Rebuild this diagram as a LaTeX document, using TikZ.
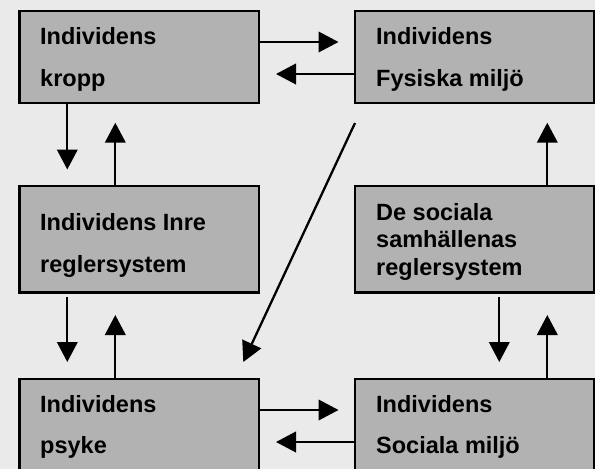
\documentclass[tikz,border=0pt]{standalone}
\usepackage{fontspec}
\setmainfont{Liberation Sans}
\usetikzlibrary{arrows.meta}
\definecolor{bg}{HTML}{EAEAEA}
\definecolor{boxgray}{HTML}{B2B2B2}
\begin{document}
\begin{tikzpicture}[x=1pt,y=-1pt,
  box/.style={draw=black,line width=2.6pt,fill=boxgray,inner sep=0pt,outer sep=0pt,anchor=north west,minimum width=239.5pt},
  lbl/.style={anchor=base west,inner sep=0pt,font=\fontsize{23.5}{28}\selectfont\bfseries},
  arr/.style={line width=2.3pt,-{Triangle[width=20.5pt,length=20pt]}}]
\useasboundingbox (0,0) rectangle (595,469);
\fill[bg] (0,0) rectangle (595,469);
\clip (0,0) rectangle (595,469);
% boxes
\node[box,minimum height=92pt] (b1) at (19.5,11) {};
\node[box,minimum height=92pt] (b2) at (355,11) {};
\node[box,minimum height=106.5pt] (b3) at (19.5,186) {};
\node[box,minimum height=106.5pt] (b4) at (355,186) {};
\node[box,minimum height=110pt] (b5) at (19.5,379) {};
\node[box,minimum height=110pt] (b6) at (355,379) {};
% labels
\node[lbl] (t1a) at (40,44) {Individens};
\node[lbl] (t1b) at (40,86) {kropp};
\node[lbl] (t2a) at (376,44) {Individens};
\node[lbl] (t2b) at (376,86) {Fysiska miljö};
\node[lbl] (t3a) at (40,230) {Individens Inre};
\node[lbl] (t3b) at (40,272.5) {reglersystem};
\node[lbl] (t4a) at (376,220) {De sociala};
\node[lbl] (t4b) at (376,247.5) {samhällenas};
\node[lbl] (t4c) at (376,275) {reglersystem};
\node[lbl] (t5a) at (40,412) {Individens};
\node[lbl] (t5b) at (40,453) {psyke};
\node[lbl] (t6a) at (376,412) {Individens};
\node[lbl] (t6b) at (376,453) {Sociala miljö};
% free ends
\coordinate (h1) at (338.5,42);
\coordinate (h2) at (276,74);
\coordinate (h3) at (338.5,410);
\coordinate (h4) at (276,442);
\coordinate (v1) at (67.3,169.5);
\coordinate (v2) at (115.3,122.7);
\coordinate (v3s) at (67.3,297);
\coordinate (v3) at (67.3,362);
\coordinate (v4) at (115.3,315);
\coordinate (v5) at (547.3,122.7);
\coordinate (v6s) at (499.3,297);
\coordinate (v6) at (499.3,362);
\coordinate (v7) at (547.3,315);
\coordinate (ds) at (355,123);
\coordinate (de) at (243.3,362);
% connectors
\draw[arr] (b1.east |- h1) -- (h1);
\draw[arr] (b2.west |- h2) -- (h2);
\draw[arr] (b5.east |- h3) -- (h3);
\draw[arr] (b6.west |- h4) -- (h4);
\draw[arr] (b1.south -| v1) -- (v1);
\draw[arr] (b3.north -| v2) -- (v2);
\draw[arr] (v3s) -- (v3);
\draw[arr] (b5.north -| v4) -- (v4);
\draw[arr] (b4.north -| v5) -- (v5);
\draw[arr] (v6s) -- (v6);
\draw[arr] (b6.north -| v7) -- (v7);
\draw[arr] (ds) -- (de);
\end{tikzpicture}
\end{document}
